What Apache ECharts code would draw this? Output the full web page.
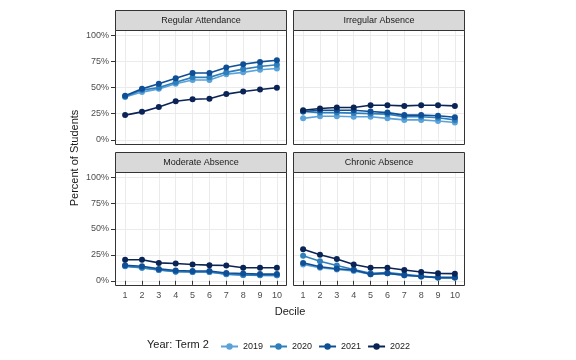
<!DOCTYPE html>
<html><head><meta charset="utf-8">
<script src="https://cdn.jsdelivr.net/npm/echarts@6/dist/echarts.min.js"></script>
<style>html,body{margin:0;padding:0;background:#fff}#c{width:576px;height:360px}</style>
</head><body><div id="c"></div>
<script>
const deciles = [1,2,3,4,5,6,7,8,9,10];
const years = ['2019','2020','2021','2022'];
const panelTitles = ['Regular Attendance','Irregular Absence','Moderate Absence','Chronic Absence'];
const yTicks = [0,25,50,75,100];
const yGrid = [0,12.5,25,37.5,50,62.5,75,87.5,100];

const regular2019 = [41,45.6,48.7,53.5,57.2,57.2,62.6,64.5,67,68.2];
const regular2020 = [41.5,47.5,50,55,59.7,59.7,64.5,67.6,70.1,71.7];
const regular2021 = [42,48.7,53.5,58.8,63.8,63.8,69.2,72.3,74.5,76.1];
const regular2022 = [23.6,26.7,31.4,36.8,38.7,39.3,43.7,46.2,48.1,49.7];

const irregular2019 = [20.5,22.5,22.5,22,22,20.5,19,19,18,16.5];
const irregular2020 = [27,26,26,25.5,25,24.5,22,22,21,19];
const irregular2021 = [27,28.3,28.3,28.3,27,26,23.6,23.6,23,21.5];
const irregular2022 = [28.3,29.9,30.8,30.8,33,33,32.4,33,33,32.4];

const moderate2019 = [14,12.5,10.5,9,8.5,8.5,6.5,5.5,5.5,5.3];
const moderate2020 = [14.2,12.6,10.4,8.8,8.5,8.5,6.3,5.7,5.3,5.3];
const moderate2021 = [15,14,11.5,10,9.5,9.5,7.5,7,6.5,6.5];
const moderate2022 = [20.4,20.4,17.3,16.7,15.7,15.1,14.8,12.6,12.6,12.6];

const chronic2019 = [15.7,12.6,11,9.4,6.3,7.2,5.3,4.1,3.1,3.1];
const chronic2020 = [24.2,18.9,14.8,11,7.2,7.9,6.3,4.7,3.1,3.1];
const chronic2021 = [17.3,13.5,11.6,10.4,6.3,7.2,5.3,4.1,3.1,3.1];
const chronic2022 = [30.5,25.2,21.1,15.7,12.6,12.6,10.4,8.5,7.2,6.9];

const panelData = [
  [regular2019,regular2020,regular2021,regular2022],
  [irregular2019,irregular2020,irregular2021,irregular2022],
  [moderate2019,moderate2020,moderate2021,moderate2022],
  [chronic2019,chronic2020,chronic2021,chronic2022]
];
const colors = ['#5aa2d8','#2e7ebc','#0f4f96','#0b2456'];

const FONT = 'Liberation Sans, Arial, sans-serif';
const panels = [
  {left:115, top:30, width:172, height:115},
  {left:293, top:30, width:172, height:115},
  {left:115, top:172, width:172, height:114},
  {left:293, top:172, width:172, height:114}
];
const stripH = 20;

const grid = [], xAxis = [], yAxis = [], series = [], graphic = [];
panels.forEach((p,i)=>{
  grid.push({left:p.left, top:p.top, width:p.width, height:p.height, show:true,
    backgroundColor:'#fff', borderWidth:0, containLabel:false});
  const bottomRow = i>=2, leftCol = (i%2)===0;
  xAxis.push({type:'value', gridIndex:i, min:0.4, max:10.6,
    axisLine:{show:false},
    axisTick:{show:bottomRow, length:4, customValues:deciles, lineStyle:{color:'#333'}},
    axisLabel:{show:bottomRow, customValues:deciles, color:'#4d4d4d', fontSize:9, fontFamily:FONT, margin:5},
    splitLine:{show:true, customValues:deciles, lineStyle:{color:'#ebebeb', width:1}}
  });
  yAxis.push({type:'value', gridIndex:i, min:-5, max:105,
    axisLine:{show:false},
    axisTick:{show:leftCol, length:4, customValues:yTicks, lineStyle:{color:'#333'}},
    axisLabel:{show:leftCol, customValues:yTicks, color:'#4d4d4d', fontSize:9, fontFamily:FONT, margin:6,
      formatter:v=>v+'%'},
    splitLine:{show:true, customValues:yGrid, lineStyle:{color:'#ebebeb', width:1}}
  });
  panelData[i].forEach((vals,k)=>{
    series.push({type:'line', name:years[k], xAxisIndex:i, yAxisIndex:i,
      data:deciles.map((d,j)=>[d, vals[j]]),
      symbol:'circle', symbolSize:6, showSymbol:true,
      lineStyle:{color:colors[k], width:1.6}, itemStyle:{color:colors[k]},
      z:2+k, animation:false, emphasis:{disabled:true}});
  });
  graphic.push({type:'rect', z:100, shape:{x:p.left+0.5, y:p.top+0.5, width:p.width-1, height:p.height-1},
    style:{fill:null, stroke:'#333', lineWidth:1}});
  graphic.push({type:'rect', z:100, shape:{x:p.left+0.5, y:p.top-stripH+0.5, width:p.width-1, height:stripH},
    style:{fill:'#d9d9d9', stroke:'#333', lineWidth:1}});
  graphic.push({type:'text', z:101, x:p.left+p.width/2, y:p.top-stripH/2+0.5,
    style:{text:panelTitles[i], fill:'#1a1a1a', font:'9px '+FONT, textAlign:'center', textVerticalAlign:'middle'}});
});
graphic.push({type:'text', x:290, y:312, style:{text:'Decile', fill:'#1a1a1a', font:'11px '+FONT, textAlign:'center', textVerticalAlign:'middle'}});
graphic.push({type:'text', x:75, y:158, rotation:Math.PI/2, style:{text:'Percent of Students', fill:'#1a1a1a', font:'11px '+FONT, textAlign:'center', textVerticalAlign:'middle'}});
graphic.push({type:'text', x:147, y:345, style:{text:'Year: Term 2', fill:'#1a1a1a', font:'11px '+FONT, textAlign:'left', textVerticalAlign:'middle'}});

const chart = echarts.init(document.getElementById('c'), null, {renderer:'canvas'});
chart.setOption({
  animation:false,
  color:colors,
  grid, xAxis, yAxis, series, graphic,
  legend:{data:years, left:215, top:337, itemWidth:17, itemHeight:8, itemGap:6,
    textStyle:{color:'#1a1a1a', fontSize:9, fontFamily:FONT}, selectedMode:false}
});
</script></body></html>
